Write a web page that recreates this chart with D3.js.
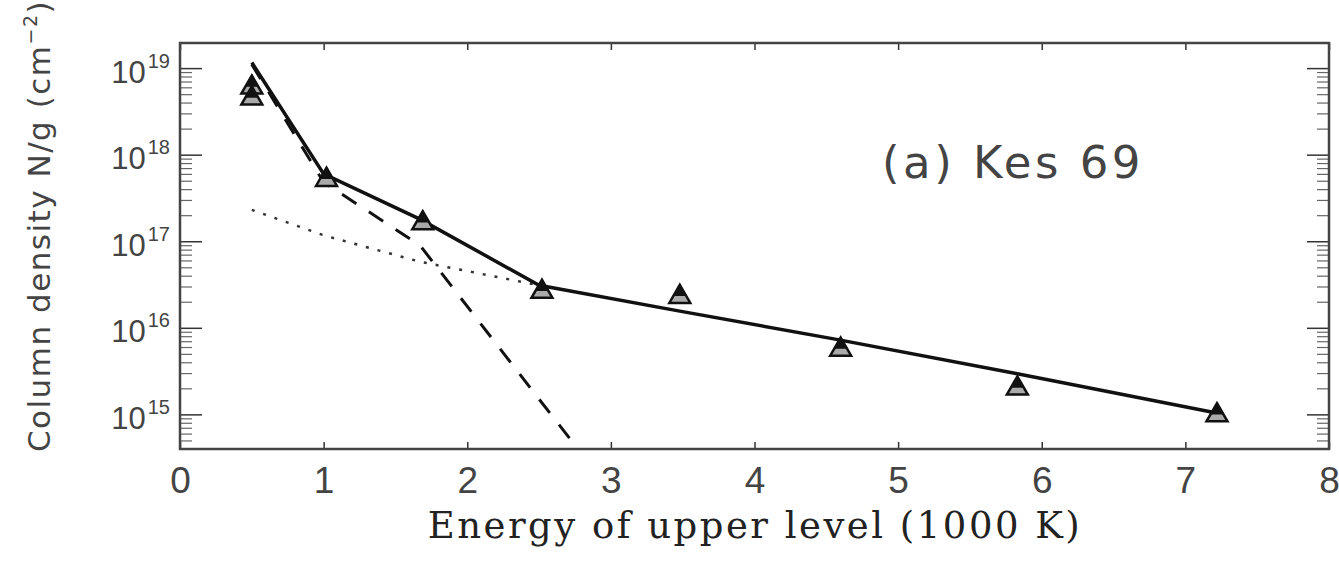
<!DOCTYPE html>
<html>
<head>
<meta charset="utf-8">
<script src="https://d3js.org/d3.v7.min.js"></script>
<style>
    body { margin: 0; background: #fff; }
    svg { display: block; }
</style>
</head>
<body>
<div id="plot-area"><svg></svg></div>
<script>
// observed H2 column densities (triangles)
const energy = [0.5, 0.5, 1.02, 1.69, 2.52, 3.48, 4.60, 5.83, 7.22];
const colDens = [6.3e18, 4.7e18, 5.4e17, 1.7e17, 2.75e16, 2.4e16, 5.9e15, 2.1e15, 1.03e15];

// model energies and fitted curves
const fitEnergy = [0.5, 1.0, 1.67, 2.5, 3.47, 4.58, 5.83, 7.2];
const totalFit = [1.16e19, 6.0e17, 1.8e17, 3.1e16, 1.57e16, 7.3e15, 2.95e15, 1.05e15];
const coldFit = [1.1e19, 4.8e17, 9.0e16, 1.5e15, 1.3e13];
const hotFit = [2.3e17, 1.17e17, 5.8e16, 3.1e16];

// axis ticks
const xTicks = [0, 1, 2, 3, 4, 5, 6, 7, 8];
const yExponents = [15, 16, 17, 18, 19];

const width = 1339, height = 564;
const margin = {left: 180, right: 1329, top: 43, bottom: 449};

let svg = d3.select('#plot-area').select('svg')
    .attr('width', width)
    .attr('height', height);

let x = d3.scaleLinear().domain([0, 8]).range([margin.left, margin.right]);
let y = d3.scaleLog().domain([Math.pow(10, 14.6), Math.pow(10, 19.29)]).range([margin.bottom, margin.top]);

// minor log ticks 2..9 in each decade
let minorTicks = [];
for (let e = 14; e <= 19; e++) {
    for (let m = 2; m <= 9; m++) {
        let v = m * Math.pow(10, e);
        if (v > y.domain()[0] && v < y.domain()[1]) minorTicks.push(v);
    }
}
const majorTicks = yExponents.map(function (e) { return Math.pow(10, e); });

svg.append('defs').append('clipPath')
    .attr('id', 'plot-clip')
    .append('rect')
    .attr('x', margin.left)
    .attr('y', margin.top)
    .attr('width', margin.right - margin.left)
    .attr('height', margin.bottom - margin.top);

// ticks, all pointing inward
function styleAxis(sel) {
    sel.select('.domain').remove();
    sel.selectAll('.tick line').attr('stroke', '#333').attr('stroke-width', 1.5);
}

svg.append('g')
    .attr('transform', 'translate(0,' + margin.bottom + ')')
    .call(d3.axisBottom(x).tickValues(xTicks).tickSize(-7).tickPadding(18).tickFormat(d3.format('d')))
    .call(styleAxis)
    .call(function (g) {
        g.selectAll('text')
            .attr('font-family', 'Liberation Sans, Arial, sans-serif')
            .attr('font-size', '37px')
            .attr('fill', '#444');
    });

svg.append('g')
    .attr('transform', 'translate(0,' + margin.top + ')')
    .call(d3.axisTop(x).tickValues(xTicks).tickSize(-7).tickFormat(''))
    .call(styleAxis);

svg.append('g')
    .attr('transform', 'translate(' + margin.left + ',0)')
    .call(d3.axisLeft(y).tickValues(minorTicks).tickSize(-12).tickFormat(''))
    .call(styleAxis)
    .call(function (g) { g.selectAll('.tick line').attr('stroke-width', 1.2).attr('stroke', '#666'); });

svg.append('g')
    .attr('transform', 'translate(' + margin.right + ',0)')
    .call(d3.axisRight(y).tickValues(minorTicks).tickSize(-12).tickFormat(''))
    .call(styleAxis)
    .call(function (g) { g.selectAll('.tick line').attr('stroke-width', 1.2).attr('stroke', '#666'); });

let yAxisLeft = svg.append('g')
    .attr('transform', 'translate(' + margin.left + ',0)')
    .call(d3.axisLeft(y).tickValues(majorTicks).tickSize(-22).tickPadding(10).tickFormat(''))
    .call(styleAxis);

svg.append('g')
    .attr('transform', 'translate(' + margin.right + ',0)')
    .call(d3.axisRight(y).tickValues(majorTicks).tickSize(-22).tickFormat(''))
    .call(styleAxis);

// 10^n labels
yAxisLeft.selectAll('.tick').each(function (d) {
    let t = d3.select(this).append('text')
        .attr('x', -10)
        .attr('y', 14)
        .attr('text-anchor', 'end')
        .attr('fill', '#444')
        .attr('font-family', 'Liberation Sans, Arial, sans-serif')
        .attr('font-size', '31px');
    t.append('tspan').text('10');
    t.append('tspan')
        .attr('dx', 2)
        .attr('dy', -15)
        .attr('font-size', '20px')
        .text(Math.round(Math.log10(d)));
});

// frame
svg.append('rect')
    .attr('x', margin.left)
    .attr('y', margin.top)
    .attr('width', margin.right - margin.left)
    .attr('height', margin.bottom - margin.top)
    .attr('fill', 'none')
    .attr('stroke', '#444')
    .attr('stroke-width', 2.5);

// fitted lines
const valueline = d3.line()
    .x(function (d) { return x(d[0]); })
    .y(function (d) { return y(d[1]); });

let plot = svg.append('g').attr('clip-path', 'url(#plot-clip)');

plot.append('path')
    .datum(d3.zip(fitEnergy, coldFit))
    .attr('fill', 'none')
    .attr('stroke', '#111')
    .attr('stroke-width', 3)
    .attr('stroke-dasharray', '17,15')
    .attr('d', valueline);

plot.append('path')
    .datum(d3.zip(fitEnergy, hotFit))
    .attr('fill', 'none')
    .attr('stroke', '#333')
    .attr('stroke-width', 2.5)
    .attr('stroke-dasharray', '3,9')
    .attr('d', valueline);

plot.append('path')
    .datum(d3.zip(fitEnergy, totalFit))
    .attr('fill', 'none')
    .attr('stroke', '#111')
    .attr('stroke-width', 3.5)
    .attr('d', valueline);

// data points: open triangle with a filled one just above
const points = d3.zip(energy, colDens);
const tri = d3.symbol().type(d3.symbolTriangle);

plot.selectAll('.open-tri')
    .data(points)
    .enter().append('path')
    .attr('class', 'open-tri')
    .attr('transform', function (d) { return 'translate(' + x(d[0]) + ',' + (y(d[1]) + 2) + ')'; })
    .attr('d', tri.size(190))
    .attr('fill', '#aaa')
    .attr('stroke', '#111')
    .attr('stroke-width', 2.5);

plot.selectAll('.filled-tri')
    .data(points)
    .enter().append('path')
    .attr('class', 'filled-tri')
    .attr('transform', function (d) { return 'translate(' + x(d[0]) + ',' + (y(d[1]) - 3) + ')'; })
    .attr('d', tri.size(90))
    .attr('fill', '#111');

// labels
svg.append('text')
    .attr('x', 882)
    .attr('y', 178)
    .attr('font-family', 'DejaVu Sans, sans-serif')
    .attr('font-size', '45px')
    .attr('letter-spacing', '3.5px')
    .attr('fill', '#444')
    .attr('xml:space', 'preserve')
    .text('(a) Kes 69');

svg.append('text')
    .attr('x', 755)
    .attr('y', 538)
    .attr('text-anchor', 'middle')
    .attr('font-family', 'DejaVu Serif, serif')
    .attr('font-size', '37px')
    .attr('letter-spacing', '2.5px')
    .attr('fill', '#222')
    .text('Energy of upper level (1000 K)');

let yTitle = svg.append('text')
    .attr('transform', 'rotate(-90)')
    .attr('x', -226)
    .attr('y', 50)
    .attr('text-anchor', 'middle')
    .attr('font-family', 'DejaVu Sans, sans-serif')
    .attr('font-size', '31px')
    .attr('letter-spacing', '1.5px')
    .attr('fill', '#444');
yTitle.append('tspan').text('Column density N/g (cm');
yTitle.append('tspan').attr('dy', -13).attr('font-size', '19px').text('\u22122');
yTitle.append('tspan').attr('dy', 13).text(')');
</script>
</body>
</html>
